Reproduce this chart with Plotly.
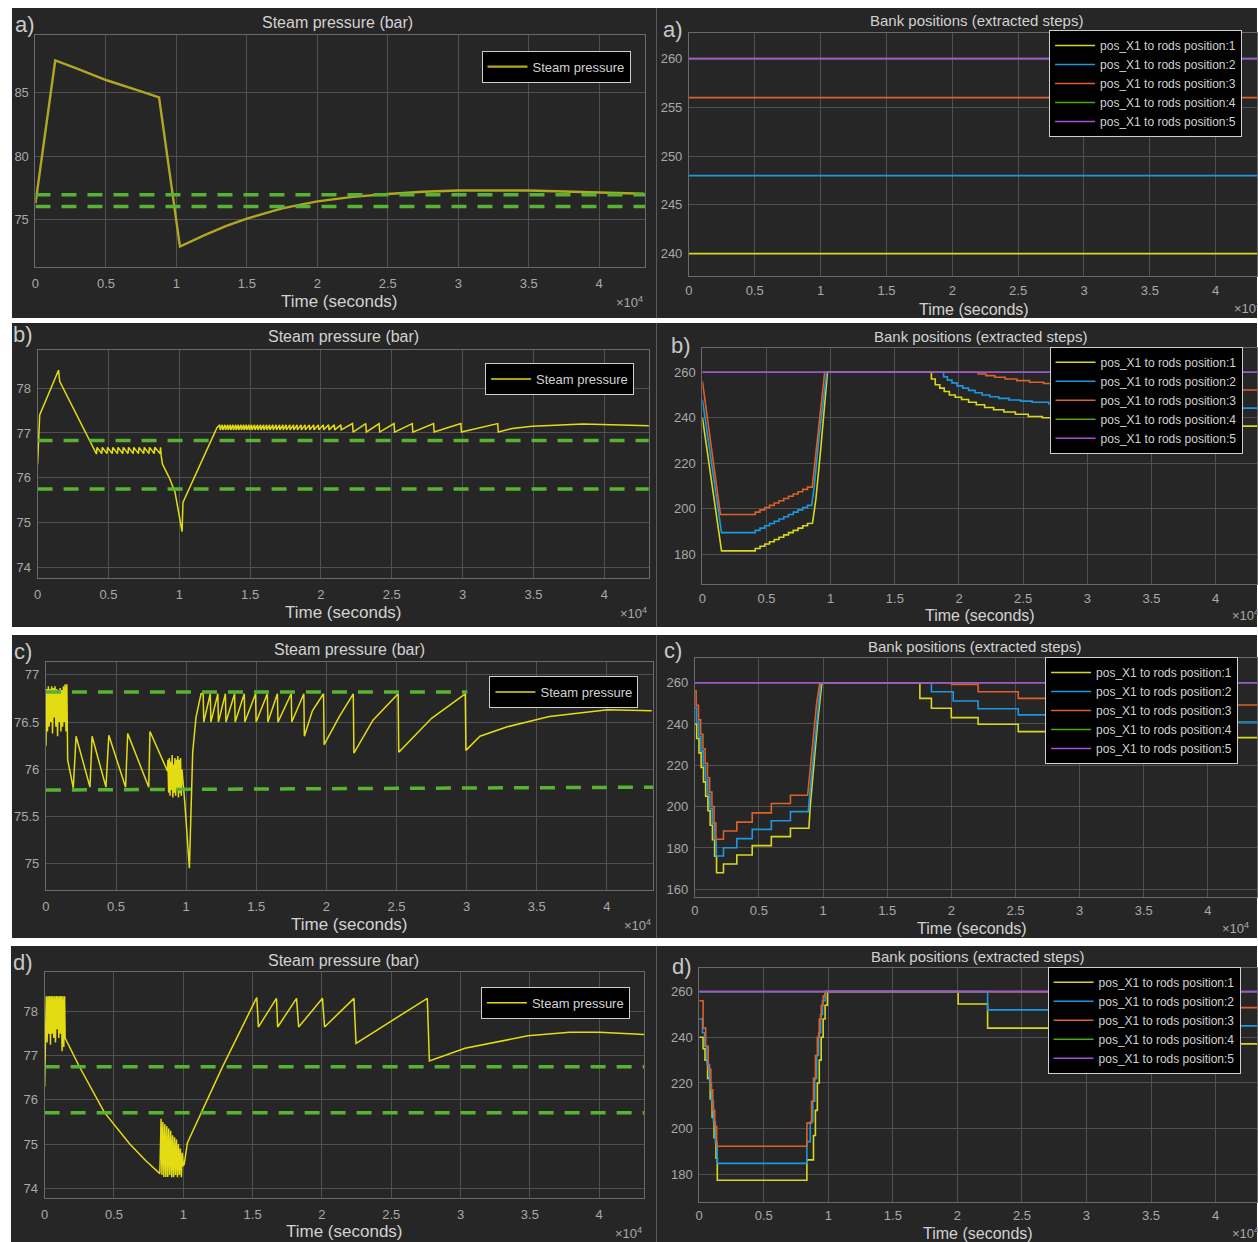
import plotly.graph_objects as go

W, H = 1258, 1242

# ---------------- shared texts / ticks ----------------
x_tick_vals = [0, 5000, 10000, 15000, 20000, 25000, 30000, 35000, 40000]
x_tick_text = ["0", "0.5", "1", "1.5", "2", "2.5", "3", "3.5", "4"]
panel_letters = ["a)", "b)", "c)", "d)"]
left_title = "Steam pressure (bar)"
right_title = "Bank positions (extracted steps)"
x_title = "Time (seconds)"
pressure_name = "Steam pressure"
bank_names = ["pos_X1 to rods position:1", "pos_X1 to rods position:2",
              "pos_X1 to rods position:3", "pos_X1 to rods position:4",
              "pos_X1 to rods position:5"]

a_p_yticks = [75, 80, 85]
b_p_yticks = [74, 75, 76, 77, 78]
c_p_yticks = [75, 75.5, 76, 76.5, 77]
d_p_yticks = [74, 75, 76, 77, 78]
a_b_yticks = [240, 245, 250, 255, 260]
b_b_yticks = [180, 200, 220, 240, 260]
c_b_yticks = [160, 180, 200, 220, 240, 260]
d_b_yticks = [180, 200, 220, 240, 260]

# ---------------- a) steam pressure ----------------
a_p_t = [0, 1400, 3000, 5050, 7000, 8770, 10250, 12000, 13500, 15000, 17500,
         20000, 22500, 25000, 27500, 30000, 35000, 40000, 43200]
a_p_v = [76.3, 87.5, 86.85, 85.95, 85.25, 84.6, 72.9, 73.8, 74.5, 75.1, 75.9,
         76.45, 76.8, 77.03, 77.2, 77.3, 77.3, 77.15, 77.05]
a_limits = [76.97, 76.05]

# a) bank positions (constant)
a_bank_levels = [240, 248, 256, 260, 260]

# ---------------- b) steam pressure ----------------
b_head_t = [0, 150, 1480, 1560, 4140]
b_head_v = [76.3, 77.4, 78.4, 78.15, 76.54]
b_up_t = [4160, 4530, 4900, 5270, 5640, 6010, 6380, 6750, 7120, 7490, 7860, 8230, 8640]
b_up_lo, b_up_hi = 76.54, 76.68
b_mid_t = [8720, 8820, 9300, 9700, 10200, 10260, 12660]
b_mid_v = [76.5, 76.3, 76.0, 75.68, 74.8, 75.45, 77.12]
b_dense_drop_t = [12860, 13043, 13233, 13422, 13605, 13795, 13985, 14167, 14357,
                  14547, 14730, 14919, 15109, 15320, 15531, 15741, 15952, 16163,
                  16374, 16606, 16838, 17077, 17309, 17541, 17801, 18061, 18314,
                  18595, 18876, 19185, 19487, 19817, 20169, 20541, 20942, 21406]
b_dense_hi, b_dense_lo = 77.18, 77.07
b_sparse_drop_t = [22228, 23163, 24104, 25158, 26444, 27948, 29874, 32474]
b_sparse_hi, b_sparse_lo = 77.21, 77.02
b_tail_t = [33500, 34900, 38500, 43200]
b_tail_v = [77.1, 77.15, 77.2, 77.16]
b_limits = [76.83, 75.75]

# b) bank positions
b_stair_t = [4120, 4490, 4860, 5230, 5600, 5970, 6340, 6710, 7080, 7450, 7820, 8190]
b1_stair_v = [182.5, 183.5, 184.5, 185.5, 186.5, 187.5, 188.5, 189.5, 190.5, 191.5, 192.5, 193.5]
b2_stair_v = [190.5, 191.5, 192.5, 193.5, 194.5, 195.5, 196.5, 197.5, 198.5, 199.5, 200.5, 201.5]
b3_stair_v = [198.5, 199.5, 200.5, 201.5, 202.5, 203.5, 204.5, 205.5, 206.5, 207.5, 208.5, 209.5]
b1_down_t, b1_down_v = [0, 1490], [240, 181.5]
b2_down_t, b2_down_v = [0, 1490], [248, 189.5]
b3_down_t, b3_down_v = [0, 1405], [256, 197.5]
b1_rise_t, b1_rise_v = [8580, 8840, 9220, 9750], [193.6, 204, 226, 260]
b2_rise_t, b2_rise_v = [8520, 8720, 9100, 9690], [201.5, 210, 232, 260]
b3_rise_t, b3_rise_v = [8560, 8800, 9530], [209.5, 222, 260]
b1_late_t = [17850, 18150, 18500, 18850, 19250, 19700, 20200, 20750, 21350, 22000,
             22700, 23500, 24400, 25400, 26500, 28000, 30000, 33000, 37000]
b1_late_v = [257, 254.5, 253, 251.5, 250, 249, 248, 246.8, 245.7, 244.5,
             243.5, 242.5, 241.5, 240.5, 240, 239, 238, 237, 236.3]
b2_late_t = [18800, 19100, 19450, 19850, 20300, 20750, 21250, 21800, 22400, 23100,
             23900, 24800, 25700, 27000, 29000, 32000, 36000]
b2_late_v = [258, 256.5, 255.3, 254, 253, 252, 251, 250, 249.2, 248.5,
             247.8, 247.3, 246.8, 246.2, 245.5, 244.8, 244.2]
b3_late_t = [21500, 22100, 22800, 23600, 24500, 25500, 26600, 28000, 30000, 33000, 37000]
b3_late_v = [259.2, 258.5, 257.8, 257, 256.3, 255.6, 255, 254.2, 253.5, 252.8, 252.2]

# ---------------- c) steam pressure ----------------
c_burst1_t = [0, 50, 110, 170, 230, 290, 350, 410, 470, 530, 590, 650, 710, 770,
              830, 890, 950, 1010, 1070, 1130, 1190, 1250, 1310, 1370, 1430, 1490]
c_burst1_v = [76.25, 76.85, 76.4, 76.88, 76.45, 76.85, 76.5, 76.88, 76.38, 76.86,
              76.55, 76.88, 76.45, 76.85, 76.35, 76.82, 76.5, 76.86, 76.4, 76.84,
              76.45, 76.88, 76.5, 76.9, 76.4, 76.9]
c_a_t = [1550, 1950, 2150, 3140, 3290, 4280, 4485, 5680, 5830, 7330, 7420, 8670]
c_a_v = [76.1, 75.8, 76.35, 75.81, 76.35, 75.81, 76.36, 75.81, 76.38, 75.81, 76.4, 75.98]
c_burst2_t = [8700, 8750, 8800, 8850, 8900, 8950, 9000, 9050, 9100, 9150, 9200,
              9250, 9300, 9350, 9400, 9450, 9500, 9550, 9600, 9650, 9700]
c_burst2_v = [76.1, 75.75, 76.12, 75.72, 76.08, 75.78, 76.15, 75.7, 76.05, 75.75,
              76.12, 75.72, 76.1, 75.8, 76.14, 75.7, 76.1, 75.75, 76.12, 75.72, 76.0]
c_b_t = [9760, 9900, 10230, 10465, 10700, 11060]
c_b_v = [75.9, 75.65, 74.95, 76.18, 76.55, 76.8]
c_saw_drop_t = [11213, 11721, 12259, 12797, 13455, 14143, 14950, 15787, 16505, 17492]
c_saw_hi, c_saw_lo = 76.8, 76.5
c_c_t = [18389, 18430, 19000, 19794, 19840, 20930, 21917, 21960, 23320, 25116,
         25160, 27500, 29900, 29950, 30950, 32900, 35900, 40060, 43200]
c_c_v = [76.8, 76.35, 76.62, 76.8, 76.26, 76.56, 76.8, 76.17, 76.52, 76.8,
         76.18, 76.54, 76.8, 76.2, 76.35, 76.45, 76.56, 76.63, 76.62]
c_upper_t, c_upper_v = [0, 30050], [76.82, 76.82]
c_lower_t, c_lower_v = [0, 43290], [75.78, 75.81]

# c) bank positions
c1_start, c2_start, c3_start = 240, 248, 256
c1_desc_t = [150, 330, 500, 680, 850, 1030, 1200, 1380, 1550, 1700]
c1_desc_v = [233, 226, 219, 212, 205, 198, 191, 184, 176, 168]
c2_desc_t = [130, 310, 480, 660, 830, 1010, 1180, 1360, 1530, 1680]
c2_desc_v = [241, 234, 227, 220, 213, 206, 199, 192, 184, 176.1]
c3_desc_t = [110, 290, 460, 640, 810, 990, 1160, 1340, 1510, 1650]
c3_desc_v = [249, 242, 235, 228, 221, 214, 207, 200, 192, 184.2]
c_up_t = [2240, 3280, 4480, 5970, 7460]
c1_up_v = [172.2, 176.6, 181.1, 185.5, 189.5]
c2_up_v = [180.1, 184.5, 189.0, 193.2, 197.6]
c3_up_v = [188.2, 192.5, 197.0, 201.5, 205.5]
c1_rise_t, c1_rise_v = [8900, 9000, 9300, 9600, 9910], [189.5, 200, 222, 242, 260]
c2_rise_t, c2_rise_v = [8850, 9000, 9300, 9550, 9820], [197.6, 208, 228, 245, 260]
c3_rise_t, c3_rise_v = [8800, 9000, 9250, 9500, 9750], [205.5, 218, 235, 250, 260]
c1_late_t, c1_late_v = [17550, 18450, 20000, 22090, 25220, 30000], [252.4, 247.6, 243.1, 239.9, 236.3, 233.4]
c2_late_t, c2_late_v = [18450, 20150, 22090, 25220, 30000], [255.6, 251.1, 247.4, 244.4, 241.0]
c3_late_t, c3_late_v = [20000, 22090, 25220, 30000], [259.2, 255.6, 252.4, 249.2]

# ---------------- d) steam pressure ----------------
d_burst1_t = [0, 120, 180, 240, 300, 360, 420, 480, 540, 600, 660, 720, 780, 840,
              900, 960, 1020, 1080, 1140, 1200, 1260, 1320, 1380, 1440]
d_burst1_v = [76.3, 78.35, 77.3, 78.35, 77.5, 78.35, 77.25, 78.35, 77.5, 78.35,
              77.4, 78.35, 77.3, 78.35, 77.6, 78.35, 77.4, 78.35, 77.5, 78.35,
              77.1, 78.35, 77.2, 78.35]
d_a_t = [1480, 2510, 4320, 6140, 7300, 8310]
d_a_v = [77.4, 76.75, 75.71, 75.0, 74.62, 74.33]
d_burst2_t = [8400, 8460, 8530, 8600, 8670, 8740, 8810, 8880, 8950, 9020, 9090,
              9160, 9230, 9300, 9370, 9440, 9510, 9580, 9650, 9720, 9790, 9860,
              9930, 10000, 10070]
d_burst2_v = [75.57, 74.3, 75.5, 74.25, 75.45, 74.25, 75.4, 74.25, 75.35, 74.3,
              75.3, 74.25, 75.2, 74.25, 75.15, 74.3, 75.1, 74.25, 75.0, 74.3,
              74.9, 74.25, 74.8, 74.5, 74.55]
d_b_t = [10300, 12800, 15300, 15420, 16720, 16810, 18170, 18320, 20040, 20190,
         22310, 22460, 24900, 27600, 27750, 30320, 34850, 37880, 40000, 43240]
d_b_v = [75.03, 76.73, 78.32, 77.65, 78.3, 77.65, 78.3, 77.65, 78.3, 77.65,
         78.3, 77.28, 77.77, 78.3, 76.88, 77.17, 77.45, 77.53, 77.53, 77.48]
d_limits = [76.75, 75.71]

# d) bank positions
d1_desc_t, d1_desc_v = [300, 450, 650, 850, 1000, 1150, 1300, 1400], [235, 230, 222, 213, 205, 196, 187, 177.4]
d2_desc_t, d2_desc_v = [250, 420, 600, 800, 950, 1100, 1250, 1390], [242, 236, 228, 220, 212, 203, 194, 184.8]
d3_desc_t, d3_desc_v = [300, 500, 700, 900, 1050, 1200, 1350], [244, 236, 226, 217, 208, 201, 192.3]
d1_up_t, d1_up_v = [8340, 8850, 9000, 9150, 9300, 9450, 9600, 9750, 9930], [186.3, 197, 208, 220, 230, 240, 248, 254, 260]
d2_up_t, d2_up_v = [8340, 8600, 8800, 8950, 9100, 9250, 9400, 9550, 9750], [194.3, 203, 212, 222, 232, 242, 250, 256, 260]
d3_up_t, d3_up_v = [8340, 8700, 8850, 9000, 9150, 9300, 9450, 9600, 9750], [202.4, 212, 222, 232, 240, 248, 254, 258, 260]
d1_late_t, d1_late_v = [20060, 22340, 27700], [254.6, 244.0, 237.1]
d2_late_t, d2_late_v = [22340, 27700], [252.0, 245.0]
d3_late_t, d3_late_v = [27700], [253.0]

# ---------------- styling ----------------
FONT = "Liberation Sans, Arial, Helvetica, sans-serif"
PANEL_BG = "#262626"
GRID = "#505050"
FRAME = "#6a6a6a"
TICK_C = "#a9a9a9"
TEXT_C = "#d2d2d2"
GREEN = "#58b332"
P_YELLOW = "#e3dc12"
P_OLIVE = "#b0a822"
BANK_COLORS = ["#d8d81c", "#1c98e0", "#dc6128", "#4aa81a", "#a64fe0"]


# ---------------- helpers (build polylines from the read values) ----------------
def steps_from(prev, ts, vs):
    xs, ys = [], []
    for t, v in zip(ts, vs):
        xs += [t, t]
        ys += [prev, v]
        prev = v
    return xs, ys


def build(parts, t_end):
    xs, ys = [], []
    for kind, ts, vs in parts:
        if kind == "lin":
            xs += list(ts)
            ys += list(vs)
        else:
            a, b = steps_from(ys[-1], ts, vs)
            xs += a
            ys += b
    if xs[-1] < t_end:
        xs.append(t_end)
        ys.append(ys[-1])
    return xs, ys


def saw(ts, lo, hi, dt, up):
    xs, ys = [], []
    for t in ts:
        xs += [t, t + dt]
        ys += [lo, hi] if up else [hi, lo]
    return xs, ys


# ---------------- panel geometry (pixels) ----------------
geo = [
    dict(bg=(8, 8, 655, 318), pr=(31.6, 35, 644, 267), xmax=43280, yr=(71.3, 89.5), yt=a_p_yticks),
    dict(bg=(655, 8, 1258, 318), pr=(687.7, 33.3, 1258, 276), xmax=43140, yr=(237.7, 262.6), yt=a_b_yticks),
    dict(bg=(8, 323, 655, 627), pr=(33.7, 350, 647.4, 578.3), xmax=43140, yr=(73.76, 78.85), yt=b_p_yticks),
    dict(bg=(655, 323, 1258, 627), pr=(701.2, 348.3, 1258, 584.3), xmax=43230, yr=(166.8, 270.5), yt=b_b_yticks),
    dict(bg=(8, 635, 655, 938), pr=(42.1, 661.7, 651.6, 890), xmax=43290, yr=(74.72, 77.14), yt=c_p_yticks),
    dict(bg=(655, 635, 1258, 938), pr=(693.5, 658.3, 1258, 896.7), xmax=43830, yr=(156.4, 271.8), yt=c_b_yticks),
    dict(bg=(7, 946, 655, 1242), pr=(40.8, 972.3, 642.7, 1198.3), xmax=43240, yr=(73.77, 78.89), yt=d_p_yticks),
    dict(bg=(655, 946, 1258, 1242), pr=(698, 968.3, 1258, 1201.7), xmax=43210, yr=(168.0, 270.2), yt=d_b_yticks),
]
title_pos = [(335, 22.7), (976, 20.7), (341, 336.7), (980, 336), (347, 649.3), (974, 646.7), (341, 960.7), (977, 956)]
xlab_pos = [(337, 302), (974, 309), (341, 612.7), (980, 615.5), (347, 924.3), (972, 928), (342, 1231.7), (978, 1233.5)]
x10_pos = [(644, 302), (1264, 308), (648, 613), (1262, 615), (651.6, 925), (1252, 928), (642.7, 1232.7), (1262, 1232.7)]
letter_pos = [(21, 25), (672, 30), (19, 335), (680, 345), (19, 651.7), (672, 650), (19, 962.7), (681, 966)]
legend_pos = [(629, 50.7), (1243, 30), (632.6, 363), (1243.5, 346.7), (637, 676), (1239, 657), (628.4, 986.7), (1241.5, 966.7)]


def px(x):
    return x / W


def py(y):
    return 1 - y / H


fig = go.Figure()


def ax_suffix(i):
    return "" if i == 0 else str(i + 1)


def add_line(i, x, y, color, width, name=None, dash=None, legend=True):
    s = ax_suffix(i)
    fig.add_trace(go.Scatter(
        x=x, y=y, mode="lines", name=name if name else "limit",
        line=dict(color=color, width=width, dash=dash),
        xaxis="x" + s, yaxis="y" + s,
        legend="legend" + s, showlegend=legend, hoverinfo="skip"))


# ---- pressure panels ----
add_line(0, a_p_t, a_p_v, P_OLIVE, 2.4, pressure_name)
bx, by = list(b_head_t), list(b_head_v)
sx, sy = saw(b_up_t, b_up_lo, b_up_hi, 40, True); bx += sx; by += sy
bx += b_mid_t; by += b_mid_v
sx, sy = saw(b_dense_drop_t, b_dense_lo, b_dense_hi, 25, False); bx += sx; by += sy
sx, sy = saw(b_sparse_drop_t, b_sparse_lo, b_sparse_hi, 40, False); bx += sx; by += sy
bx += b_tail_t; by += b_tail_v
add_line(2, bx, by, P_YELLOW, 1.5, pressure_name)
cx = c_burst1_t + c_a_t + c_burst2_t + c_b_t
cy = c_burst1_v + c_a_v + c_burst2_v + c_b_v
sx, sy = saw(c_saw_drop_t, c_saw_lo, c_saw_hi, 40, False); cx += sx; cy += sy
cx += c_c_t; cy += c_c_v
add_line(4, cx, cy, P_YELLOW, 1.5, pressure_name)
dx = d_burst1_t + d_a_t + d_burst2_t + d_b_t
dy = d_burst1_v + d_a_v + d_burst2_v + d_b_v
add_line(6, dx, dy, P_YELLOW, 1.5, pressure_name)

# green limit lines
DASH = "15px,11px"
for i, lim in [(0, a_limits), (2, b_limits), (6, d_limits)]:
    for v in lim:
        add_line(i, [0, geo[i]["xmax"]], [v, v], GREEN, 3.5, dash=DASH, legend=False)
add_line(4, c_upper_t, c_upper_v, GREEN, 3.5, dash=DASH, legend=False)
add_line(4, c_lower_t, c_lower_v, GREEN, 3.5, dash=DASH, legend=False)

# ---- bank panels ----
for k in range(5):
    add_line(1, [0, geo[1]["xmax"]], [a_bank_levels[k]] * 2, BANK_COLORS[k], 1.6, bank_names[k])

b_series = [
    build([("lin", b1_down_t, b1_down_v), ("hv", b_stair_t, b1_stair_v), ("lin", b1_rise_t, b1_rise_v),
           ("hv", b1_late_t, b1_late_v)], geo[3]["xmax"]),
    build([("lin", b2_down_t, b2_down_v), ("hv", b_stair_t, b2_stair_v), ("lin", b2_rise_t, b2_rise_v),
           ("hv", b2_late_t, b2_late_v)], geo[3]["xmax"]),
    build([("lin", b3_down_t, b3_down_v), ("hv", b_stair_t, b3_stair_v), ("lin", b3_rise_t, b3_rise_v),
           ("hv", b3_late_t, b3_late_v)], geo[3]["xmax"]),
]
c_series = [
    build([("lin", [0], [c1_start]), ("hv", c1_desc_t, c1_desc_v), ("hv", c_up_t, c1_up_v),
           ("lin", c1_rise_t, c1_rise_v), ("hv", c1_late_t, c1_late_v)], geo[5]["xmax"]),
    build([("lin", [0], [c2_start]), ("hv", c2_desc_t, c2_desc_v), ("hv", c_up_t, c2_up_v),
           ("lin", c2_rise_t, c2_rise_v), ("hv", c2_late_t, c2_late_v)], geo[5]["xmax"]),
    build([("lin", [0], [c3_start]), ("hv", c3_desc_t, c3_desc_v), ("hv", c_up_t, c3_up_v),
           ("lin", c3_rise_t, c3_rise_v), ("hv", c3_late_t, c3_late_v)], geo[5]["xmax"]),
]
d_series = [
    build([("lin", [0], [240]), ("hv", d1_desc_t, d1_desc_v), ("hv", d1_up_t, d1_up_v),
           ("hv", d1_late_t, d1_late_v)], geo[7]["xmax"]),
    build([("lin", [0], [248]), ("hv", d2_desc_t, d2_desc_v), ("hv", d2_up_t, d2_up_v),
           ("hv", d2_late_t, d2_late_v)], geo[7]["xmax"]),
    build([("lin", [0], [256]), ("hv", d3_desc_t, d3_desc_v), ("hv", d3_up_t, d3_up_v),
           ("hv", d3_late_t, d3_late_v)], geo[7]["xmax"]),
]
for i, series in [(3, b_series), (5, c_series), (7, d_series)]:
    for k in range(3):
        add_line(i, series[k][0], series[k][1], BANK_COLORS[k], 1.6, bank_names[k])
    add_line(i, [0, geo[i]["xmax"]], [260, 260], BANK_COLORS[3], 1.6, bank_names[3])
    add_line(i, [0, geo[i]["xmax"]], [260, 260], BANK_COLORS[4], 1.6, bank_names[4])

# ---------------- layout ----------------
layout = dict(
    width=W, height=H, autosize=False,
    margin=dict(l=0, r=0, t=0, b=0),
    paper_bgcolor="white", plot_bgcolor="black",
    font=dict(family=FONT, color=TICK_C),
    shapes=[], annotations=[],
)
for i, g in enumerate(geo):
    s = ax_suffix(i)
    x0, y0, x1, y1 = g["pr"]
    right = i % 2 == 1
    layout["shapes"].append(dict(type="rect", xref="paper", yref="paper",
                                 x0=px(g["bg"][0]), x1=px(g["bg"][2]),
                                 y0=py(g["bg"][3]), y1=py(g["bg"][1]),
                                 fillcolor=PANEL_BG, line=dict(width=0), layer="below"))
    layout["xaxis" + s] = dict(
        domain=[px(x0), px(x1)], anchor="y" + s, range=[0, g["xmax"]],
        tickvals=x_tick_vals, ticktext=x_tick_text, showgrid=True, gridcolor=GRID,
        gridwidth=1, zeroline=False, showline=True, linecolor=FRAME, mirror=True,
        ticks="", tickfont=dict(size=13, color=TICK_C, family=FONT),
        ticklabelstandoff=2 if right else 4)
    layout["yaxis" + s] = dict(
        domain=[py(y1), py(y0)], anchor="x" + s, range=list(g["yr"]),
        tickvals=g["yt"], showgrid=True, gridcolor=GRID, gridwidth=1, zeroline=False,
        showline=True, linecolor=FRAME, mirror=True, ticks="",
        tickfont=dict(size=13, color=TICK_C, family=FONT), ticklabelstandoff=3)
    lx, ly = legend_pos[i]
    layout["legend" + s] = dict(
        x=px(lx), y=py(ly), xanchor="right", yanchor="top", xref="paper", yref="paper",
        bgcolor="black", bordercolor="#cfcfcf", borderwidth=1,
        font=dict(size=12 if right else 13, color=TEXT_C, family=FONT),
        itemwidth=40, tracegroupgap=0)
    tx, ty = title_pos[i]
    layout["annotations"].append(dict(
        text=right_title if right else left_title, x=px(tx), y=py(ty),
        xref="paper", yref="paper", showarrow=False, xanchor="center", yanchor="middle",
        font=dict(size=15 if right else 16, color=TEXT_C, family=FONT)))
    tx, ty = xlab_pos[i]
    layout["annotations"].append(dict(
        text=x_title, x=px(tx), y=py(ty), xref="paper", yref="paper", showarrow=False,
        xanchor="center", yanchor="middle",
        font=dict(size=16 if right else 17, color=TEXT_C, family=FONT)))
    tx, ty = x10_pos[i]
    layout["annotations"].append(dict(
        text="\u00d710<sup>4</sup>", x=px(tx), y=py(ty), xref="paper", yref="paper",
        showarrow=False, xanchor="right", yanchor="middle",
        font=dict(size=13, color=TICK_C, family=FONT)))
    tx, ty = letter_pos[i]
    layout["annotations"].append(dict(
        text=panel_letters[i // 2], x=px(tx), y=py(ty), xref="paper", yref="paper",
        showarrow=False, xanchor="center", yanchor="middle",
        font=dict(size=22, color="#c8c8c8", family=FONT)))

fig.update_layout(**layout)
fig.write_html("out.html", config={"displayModeBar": False},
               post_script="document.body.style.margin='0';document.body.style.overflow='hidden';")
